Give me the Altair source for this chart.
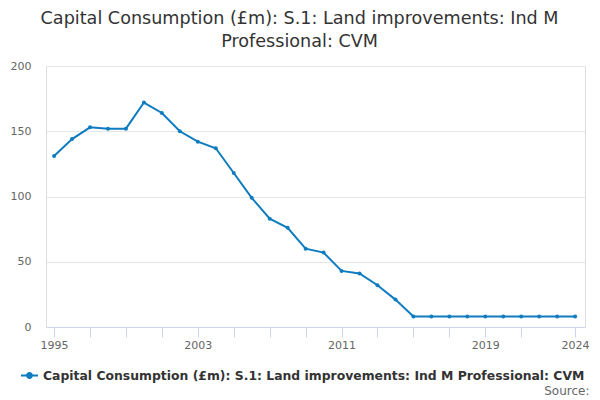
import altair as alt
import pandas as pd

years = list(range(1995, 2025))
values = [131, 144, 153, 152, 152, 172, 164, 150, 142, 137,
          118, 99, 83, 76, 60, 57, 43, 41, 32, 21,
          8, 8, 8, 8, 8, 8, 8, 8, 8, 8]
series_name = "Capital Consumption (£m): S.1: Land improvements: Ind M Professional: CVM"
title_lines = ["Capital Consumption (£m): S.1: Land improvements: Ind M", "Professional: CVM"]
tick_years = [1995, 1997, 1999, 2001, 2003, 2005, 2007, 2009, 2011, 2013, 2015, 2017, 2019, 2021, 2024]
label_years = [1995, 2003, 2011, 2019, 2024]
y_ticks = [0, 50, 100, 150, 200]

df = pd.DataFrame({"year": years, "value": values, "series": [series_name] * len(years)})

color = "#0f7cc0"
font = "DejaVu Sans"

x = alt.X("year:Q",
          scale=alt.Scale(domain=[1994.55, 2024.55], nice=False, zero=False),
          axis=alt.Axis(values=tick_years, format="d",
                        labelExpr="indexof(%s, datum.value) >= 0 ? datum.label : ''" % str(label_years),
                        grid=False, tickColor="#ccd6eb", domainColor="#ccd6eb",
                        tickSize=10, labelPadding=2, labelColor="#666666", labelFontSize=11,
                        labelFont=font, title="Source:", titleFont=font, titleFontSize=12,
                        titleFontWeight="normal", titleColor="#666666", titleAlign="right",
                        titleAnchor="end", titleX=543, titleY=67, titleBaseline="alphabetic"))
y = alt.Y("value:Q",
          scale=alt.Scale(domain=[0, 200], nice=False),
          axis=alt.Axis(values=y_ticks, title=None, domain=False, ticks=False,
                        gridColor="#e6e6e6", labelColor="#666666", labelFontSize=11,
                        labelFont=font, labelPadding=15))
col = alt.Color("series:N", scale=alt.Scale(domain=[series_name], range=[color]),
                legend=alt.Legend(title=None, orient="none", legendX=-26, legendY=300,
                                  symbolType="M-1,0H1M-0.28,0A0.28,0.28 0 1,1 0.28,0A0.28,0.28 0 1,1 -0.28,0Z",
                                  symbolSize=289, symbolStrokeWidth=2, symbolFillColor=color,
                                  symbolStrokeColor=color, labelFont=font, labelFontSize=12.4,
                                  labelFontWeight="bold", labelColor="#333333", labelLimit=700,
                                  symbolOffset=0))

base = alt.Chart(df)
line = base.mark_line(strokeWidth=2).encode(x=x, y=y, color=col)
pts = base.mark_point(filled=True, size=16, opacity=1, shape="circle").encode(x=x, y=y, color=col)

chart = alt.layer(line, pts).properties(
    width=539, height=261,
    title=alt.TitleParams(text=title_lines, anchor="middle", frame="bounds", font=font,
                          fontSize=17.6, fontWeight="normal", color="#333333", lineHeight=23,
                          offset=9),
    autosize=alt.AutoSizeParams(type="none"),
    padding={"left": 38, "top": 58, "right": 5, "bottom": 76},
).configure_view(stroke=None).configure(background="white")

chart.save("out.html", embed_options={"renderer": "svg", "actions": False})
